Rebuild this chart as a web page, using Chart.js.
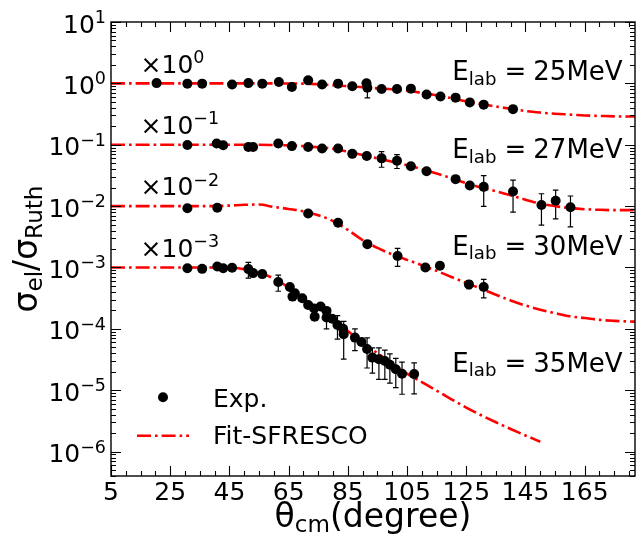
<!DOCTYPE html>
<html><head><meta charset="utf-8">
<script src="https://cdn.jsdelivr.net/npm/chart.js@4/dist/chart.umd.min.js"></script>
<style>html,body{margin:0;padding:0;background:#fff;}#wrap{width:641px;height:542px;position:relative;}</style>
</head><body><div id="wrap"><canvas id="c" width="641" height="542"></canvas></div>
<script>
const FONT = "'DejaVu Sans', sans-serif";

// ---- Experimental data (sigma_el / sigma_Ruth), angle in degrees (c.m.) ----
const theta25 = [20.4,30.8,35.8,45.9,51.4,56.1,61.7,66.1,71.6,76.3,81.7,86.5,91.3,91.6,96.4,101.6,106.3,111.6,116.3,121.4,126.2,130.9,140.8];
const ratio25 = [1.01,0.99,0.99,0.96,1.01,0.99,1.05,0.87,1.12,0.96,0.99,0.90,1.00,0.85,0.81,0.81,0.82,0.66,0.61,0.585,0.49,0.45,0.38];
const err25   = [0,0,0,0,0,0,0,0,0,0,0,0,0,0.27,0,0,0,0,0,0,0,0,0];

const theta27 = [30.8,40.7,42.9,51.4,53.0,61.5,66.1,71.6,76.3,81.7,86.5,91.4,96.4,101.6,106.3,111.6,121.4,126.2,130.9,140.8,150.4,155.2,160.2];
const ratio27 = [0.99,1.05,0.98,0.92,0.92,1.05,0.95,0.92,0.87,0.87,0.71,0.655,0.60,0.55,0.447,0.37,0.275,0.217,0.206,0.173,0.104,0.122,0.096];
const err27   = [0,0,0,0,0,0,0,0,0,0,0,0,0.17,0.14,0,0,0,0,0.107,0.093,0.055,0.06,0.05];

const theta30 = [30.8,40.9,71.6,81.7,91.6,101.8,111.2,116.1,125.9,130.9];
const ratio30 = [0.92,0.94,0.76,0.536,0.24,0.154,0.100,0.107,0.053,0.048];
const err30   = [0,0,0,0,0,0.05,0,0,0.008,0.016];

const theta35 = [30.8,35.8,40.9,42.9,45.9,51.4,53.0,56.1,61.5,65.4,66.3,67.1,69.6,71.6,73.6,73.8,75.8,77.8,77.8,79.7,81.5,83.4,83.6,87.4,89.6,91.5,93.3,95.5,97.5,99.2,101.2,103.3,107.4];
const ratio35 = [0.97,0.95,1.04,0.97,0.99,0.94,0.81,0.78,0.58,0.48,0.335,0.38,0.315,0.245,0.215,0.158,0.231,0.196,0.153,0.146,0.116,0.100,0.082,0.072,0.061,0.047,0.034,0.032,0.030,0.026,0.022,0.0186,0.0183];
const err35   = [0,0.08,0,0,0,0.27,0,0,0.17,0,0,0,0,0,0,0,0,0,0.053,0,0.048,0,0.05,0.028,0,0.024,0.015,0.017,0.015,0.013,0.011,0.010,0.0096];

// ---- SFRESCO fits ----
const fitTheta = [5,10,15,20,25,30,35,40,45,50,55,60,65,70,75,80,85,90,95,100,105,110,115,120,125,130,135,140,145,150,155,160,165,170,175,180,182];
const fit25 = [1,1,1,1,1,1,1,1,1,1,1,1,0.995,0.99,0.965,0.935,0.90,0.865,0.83,0.80,0.76,0.70,0.64,0.575,0.51,0.46,0.42,0.385,0.355,0.335,0.32,0.31,0.30,0.295,0.29,0.288,0.288];
const fit27 = [1,1,1,1,1,1,1,1,1,1,1,0.99,0.975,0.95,0.91,0.86,0.77,0.68,0.60,0.53,0.465,0.40,0.34,0.285,0.237,0.20,0.175,0.15,0.127,0.11,0.10,0.093,0.089,0.087,0.086,0.086,0.086];
const fit30 = [1,1,1,1,1,1,1,1.0,1.02,1.05,1.06,0.97,0.9,0.82,0.71,0.57,0.41,0.28,0.208,0.163,0.133,0.109,0.088,0.070,0.056,0.045,0.036,0.029,0.024,0.0205,0.018,0.016,0.015,0.014,0.0135,0.0132,0.0131];
const fit35 = [1,1,1,1,1,1,1,1,1,0.94,0.83,0.66,0.47,0.31,0.22,0.145,0.092,0.060,0.040,0.027,0.0187,0.01355,0.00982,0.00711,0.00521,0.00391,0.0030,0.00233,0.00183,0.00145];

// ---- Offsets, labels, ticks ----
const offsetFactors = [1,0.1,0.01,0.001];
const offsetExponents = ['0','\u22121','\u22122','\u22123'];
const energyLabels = ['25MeV','27MeV','30MeV','35MeV'];
const energyLabelY = [1.12,0.06,0.0016,2.0e-5];
const xTickValues = [5,25,45,65,85,105,125,145,165];
const yTickExponents = [-6,-5,-4,-3,-2,-1,0,1];
const legendLabels = ['Exp.','Fit-SFRESCO'];

const X_MIN = 5, X_MAX = 182, Y_MIN = 4e-7, Y_MAX = 10;
const LW = 2.6;
const DASH = [14,4,2.6,4];

function expSet(th, r, e, f){
  return {type:'scatter', label:'Exp.', order:0,
    data: th.map((t,i)=>({x:t, y:r[i]*f, e:e[i]*f})),
    pointRadius:5, pointHoverRadius:5, pointBackgroundColor:'#000', pointBorderWidth:0, showLine:false};
}
function fitSet(vals, f){
  return {type:'scatter', label:'Fit-SFRESCO', order:1,
    data: vals.map((v,i)=>({x:fitTheta[i], y:v*f})),
    showLine:true, borderColor:'#ff0000', borderWidth:LW, borderDash:DASH,
    pointRadius:0, cubicInterpolationMode:'monotone', fill:false};
}

function drawRich(ctx, parts, x, y, align, base){
  const items = parts.map(p=>{
    if (p.gap) return {gap:true, w:p.gap};
    const size = p.k ? base*0.7 : base;
    ctx.font = size+'px '+FONT;
    return {t:p.t, size, w:ctx.measureText(p.t).width,
      dy: p.k==='sup' ? -base*0.38 : (p.k==='sub' ? base*0.16 : 0)};
  });
  const total = items.reduce((s,i)=>s+i.w,0);
  let cx = align==='right' ? x-total : (align==='center' ? x-total/2 : x);
  ctx.textBaseline='alphabetic'; ctx.textAlign='left'; ctx.fillStyle='#000';
  for (const it of items){
    if (!it.gap){ ctx.font = it.size+'px '+FONT; ctx.fillText(it.t, cx, y+it.dy); }
    cx += it.w;
  }
}

const errorBars = {
  id:'errorBars',
  beforeDatasetsDraw(chart){
    const {ctx, chartArea:a, scales:{x,y}} = chart;
    ctx.save();
    ctx.beginPath(); ctx.rect(a.left,a.top,a.right-a.left,a.bottom-a.top); ctx.clip();
    ctx.strokeStyle='#000'; ctx.lineWidth=1.2;
    chart.data.datasets.forEach(ds=>{
      if (ds.showLine) return;
      ds.data.forEach(p=>{
        if (!p.e) return;
        const px = x.getPixelForValue(p.x);
        const y1 = y.getPixelForValue(p.y+p.e), y2 = y.getPixelForValue(Math.max(p.y-p.e, Y_MIN));
        ctx.beginPath();
        ctx.moveTo(px,y1); ctx.lineTo(px,y2);
        ctx.moveTo(px-2.8,y1); ctx.lineTo(px+2.8,y1);
        ctx.moveTo(px-2.8,y2); ctx.lineTo(px+2.8,y2);
        ctx.stroke();
      });
    });
    ctx.restore();
  }
};

const frameAndText = {
  id:'frameAndText',
  afterDraw(chart){
    const {ctx, chartArea:a, scales:{x,y}} = chart;
    ctx.save();
    // ticks
    ctx.strokeStyle='#000'; ctx.lineWidth=1.1;
    const MAJ=10, MIN=5;
    ctx.beginPath();
    for (let v=X_MIN; v<=X_MAX; v+=5){
      const px = Math.round(x.getPixelForValue(v))+0.5;
      const L = xTickValues.includes(v) ? MAJ : MIN;
      ctx.moveTo(px,a.bottom); ctx.lineTo(px,a.bottom-L);
      ctx.moveTo(px,a.top); ctx.lineTo(px,a.top+L);
    }
    for (let e=-7; e<=1; e++){
      for (let k=1;k<=9;k++){
        const v = k*Math.pow(10,e);
        if (v < Y_MIN*0.999 || v > Y_MAX*1.001) continue;
        const py = Math.round(y.getPixelForValue(v))+0.5;
        const L = k===1 ? MAJ : MIN;
        ctx.moveTo(a.left,py); ctx.lineTo(a.left+L,py);
        ctx.moveTo(a.right,py); ctx.lineTo(a.right-L,py);
      }
    }
    ctx.stroke();
    // frame
    ctx.lineWidth=1.4;
    ctx.strokeRect(a.left, a.top, a.right-a.left, a.bottom-a.top);

    // tick labels
    xTickValues.forEach(v=>{
      drawRich(ctx,[{t:String(v)}], x.getPixelForValue(v), a.bottom+24, 'center', 25);
    });
    yTickExponents.forEach(e=>{
      const lab = e<0 ? '\u2212'+(-e) : String(e);
      drawRich(ctx,[{t:'10'},{t:lab,k:'sup'}], a.left-5, y.getPixelForValue(Math.pow(10,e))+10.5, 'right', 25);
    });

    // axis titles
    drawRich(ctx,[{t:'\u03b8'},{t:'cm',k:'sub'},{t:'(degree)'}], (a.left+a.right)/2, 527, 'center', 33);
    ctx.save();
    ctx.translate(37,(a.top+a.bottom)/2);
    ctx.rotate(-Math.PI/2);
    drawRich(ctx,[{t:'\u03c3'},{t:'el',k:'sub'},{t:'/\u03c3'},{t:'Ruth',k:'sub'}], 0, 0, 'center', 33);
    ctx.restore();

    // annotations
    offsetFactors.forEach((f,i)=>{
      drawRich(ctx,[{t:'\u00d7'},{t:'10'},{t:offsetExponents[i],k:'sup'}], x.getPixelForValue(15), y.getPixelForValue(1.5*f), 'left', 25);
      drawRich(ctx,[{t:'E'},{t:'lab',k:'sub'},{gap:8},{t:'='},{gap:7},{t:energyLabels[i]}], x.getPixelForValue(120.3), y.getPixelForValue(energyLabelY[i]), 'left', 26);
    });

    // legend
    ctx.fillStyle='#000';
    ctx.beginPath(); ctx.arc(163,397.3,5,0,Math.PI*2); ctx.fill();
    drawRich(ctx,[{t:legendLabels[0]}], 213, 406.5, 'left', 25);
    ctx.strokeStyle='#ff0000'; ctx.lineWidth=LW; ctx.setLineDash(DASH);
    ctx.beginPath(); ctx.moveTo(137,435.7); ctx.lineTo(189,435.7); ctx.stroke();
    ctx.setLineDash([]);
    drawRich(ctx,[{t:legendLabels[1]}], 213, 444, 'left', 25);
    ctx.restore();
  }
};

new Chart(document.getElementById('c'), {
  type:'scatter',
  data:{datasets:[
    expSet(theta25,ratio25,err25,offsetFactors[0]),
    expSet(theta27,ratio27,err27,offsetFactors[1]),
    expSet(theta30,ratio30,err30,offsetFactors[2]),
    expSet(theta35,ratio35,err35,offsetFactors[3]),
    fitSet(fit25,offsetFactors[0]),
    fitSet(fit27,offsetFactors[1]),
    fitSet(fit30,offsetFactors[2]),
    fitSet(fit35,offsetFactors[3])
  ]},
  options:{
    responsive:false, animation:false, devicePixelRatio:1,
    layout:{padding:{top:22,right:6,left:0,bottom:0}},
    plugins:{legend:{display:false}, tooltip:{enabled:false}},
    scales:{
      x:{type:'linear', min:X_MIN, max:X_MAX, grid:{display:false}, border:{display:false},
         ticks:{display:false}, afterFit(s){ s.height=66; }},
      y:{type:'logarithmic', min:Y_MIN, max:Y_MAX, grid:{display:false}, border:{display:false},
         ticks:{display:false}, afterFit(s){ s.width=111; }}
    }
  },
  plugins:[errorBars, frameAndText]
});
</script></body></html>
